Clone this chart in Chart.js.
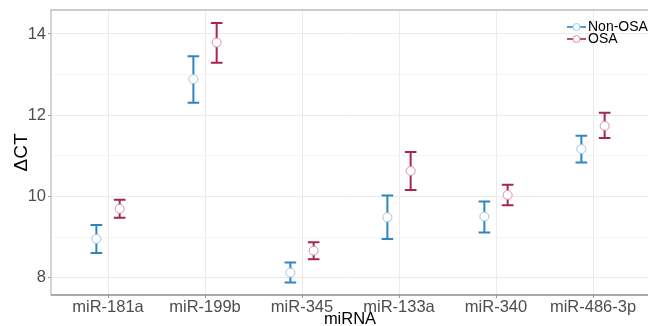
<!DOCTYPE html>
<html lang="en">
<head>
<meta charset="UTF-8">
<title>miRNA dCT</title>
<script src="https://cdn.jsdelivr.net/npm/chart.js"></script>
<style>
  html, body { margin: 0; padding: 0; background: #fff; }
  #wrap { width: 648px; height: 326px; }
</style>
</head>
<body>
<div id="wrap"><canvas id="chart" width="648" height="326"></canvas></div>
<script>
// data
const categories = ['miR-181a', 'miR-199b', 'miR-345', 'miR-133a', 'miR-340', 'miR-486-3p'];
const nonOsaMean = [8.96, 12.89, 8.13, 9.49, 9.51, 11.17];
const nonOsaLow  = [8.61, 12.31, 7.89, 8.96, 9.12, 10.84];
const nonOsaHigh = [9.30, 13.45, 8.38, 10.03, 9.88, 11.50];
const osaMean = [9.70, 13.79, 8.67, 10.63, 10.04, 11.74];
const osaLow  = [9.48, 13.29, 8.46, 10.16, 9.79, 11.44];
const osaHigh = [9.92, 14.27, 8.88, 11.10, 10.29, 12.06];
const yTicks = [8, 9, 10, 11, 12, 13, 14];

const blue = '#2f85c2', blueLight = '#9cc6e6';
const red = '#a8254f', redLight = '#d690a8';
const dodge = 0.12;
const font = '"Liberation Sans", Arial, sans-serif';

function points(means, shift) {
  return means.map((m, i) => ({ x: i + 1 + shift, y: m }));
}

// draws the error bars, the axis titles and the legend
const errorBars = {
  id: 'errorBars',
  beforeDatasetsDraw(chart) {
    const ctx = chart.ctx;
    const xs = chart.scales.x, ys = chart.scales.y;
    const groups = [
      { low: nonOsaLow, high: nonOsaHigh, shift: -dodge, color: blue },
      { low: osaLow, high: osaHigh, shift: dodge, color: red }
    ];
    ctx.save();
    ctx.lineWidth = 2;
    groups.forEach(g => {
      ctx.strokeStyle = g.color;
      categories.forEach((c, i) => {
        const x = xs.getPixelForValue(i + 1 + g.shift);
        const xl = xs.getPixelForValue(i + 1 + g.shift - 0.06);
        const xr = xs.getPixelForValue(i + 1 + g.shift + 0.06);
        const y1 = ys.getPixelForValue(g.low[i]);
        const y2 = ys.getPixelForValue(g.high[i]);
        ctx.beginPath();
        ctx.moveTo(x, y1); ctx.lineTo(x, y2);
        ctx.moveTo(xl, y1); ctx.lineTo(xr, y1);
        ctx.moveTo(xl, y2); ctx.lineTo(xr, y2);
        ctx.stroke();
      });
    });
    ctx.restore();
  },
  afterDraw(chart) {
    const ctx = chart.ctx, a = chart.chartArea;
    ctx.save();
    ctx.fillStyle = '#000';
    ctx.textAlign = 'center';
    ctx.textBaseline = 'middle';
    // x axis title
    ctx.font = '16.5px ' + font;
    ctx.fillText('miRNA', 350, 319);
    // y axis title
    ctx.save();
    ctx.translate(22, (a.top + a.bottom) / 2);
    ctx.rotate(-Math.PI / 2);
    ctx.font = '19px ' + font;
    ctx.fillText('ΔCT', 0, 0);
    ctx.restore();
    // legend
    const items = [
      { label: 'Non-OSA', color: blue, light: blueLight, y: 27 },
      { label: 'OSA', color: red, light: redLight, y: 39 }
    ];
    ctx.font = '14px ' + font;
    ctx.textAlign = 'left';
    items.forEach(it => {
      ctx.strokeStyle = it.color;
      ctx.lineWidth = 1.6;
      ctx.beginPath();
      ctx.moveTo(567, it.y); ctx.lineTo(586, it.y);
      ctx.stroke();
      ctx.beginPath();
      ctx.arc(576.5, it.y, 3.5, 0, Math.PI * 2);
      ctx.fillStyle = '#fff';
      ctx.fill();
      ctx.lineWidth = 1;
      ctx.strokeStyle = it.light;
      ctx.stroke();
      ctx.fillStyle = '#000';
      ctx.fillText(it.label, 588, it.y);
    });
    ctx.restore();
  }
};

// panel border: top and left light, bottom axis darker
const frame = {
  id: 'frame',
  afterDatasetsDraw(chart) {
    const a = chart.chartArea, ctx = chart.ctx;
    ctx.save();
    ctx.lineWidth = 1.3;
    ctx.strokeStyle = '#bdbdbd';
    ctx.beginPath();
    ctx.moveTo(a.left, a.bottom); ctx.lineTo(a.left, a.top); ctx.lineTo(a.right, a.top);
    ctx.stroke();
    ctx.strokeStyle = '#8c8c8c';
    ctx.beginPath();
    ctx.moveTo(a.left, a.bottom); ctx.lineTo(a.right, a.bottom);
    ctx.stroke();
    ctx.restore();
  }
};

new Chart(document.getElementById('chart'), {
  type: 'scatter',
  data: {
    datasets: [
      {
        label: 'Non-OSA',
        data: points(nonOsaMean, -dodge),
        backgroundColor: '#fff',
        borderColor: blueLight,
        borderWidth: 1,
        pointRadius: 4.5
      },
      {
        label: 'OSA',
        data: points(osaMean, dodge),
        backgroundColor: '#fff',
        borderColor: redLight,
        borderWidth: 1,
        pointRadius: 4.5
      }
    ]
  },
  options: {
    responsive: false,
    animation: false,
    layout: { autoPadding: false, padding: { top: 10, right: 0, left: 0, bottom: 0 } },
    plugins: { legend: { display: false }, tooltip: { enabled: false } },
    scales: {
      x: {
        type: 'linear',
        min: 0.412,
        max: 6.567,
        afterBuildTicks(s) { s.ticks = categories.map((c, i) => ({ value: i + 1 })); },
        afterFit(s) { s.height = 31; s.paddingLeft = 0; s.paddingRight = 0; },
        ticks: {
          callback: v => categories[v - 1],
          color: '#4d4d4d',
          font: { size: 16.5, family: font },
          padding: 0,
          maxRotation: 0
        },
        grid: { color: '#ebebeb', lineWidth: 1, tickLength: 3, tickColor: '#9a9a9a' },
        border: { display: false }
      },
      y: {
        min: 7.58,
        max: 14.59,
        afterBuildTicks(s) { s.ticks = yTicks.map(v => ({ value: v })); },
        afterFit(s) { s.width = 51; s.paddingTop = 0; s.paddingBottom = 0; },
        ticks: {
          callback: v => (v % 2 === 0 ? String(v) : ''),
          color: '#4d4d4d',
          font: { size: 16.5, family: font },
          padding: 2
        },
        grid: {
          color: c => (c.tick && c.tick.value % 2 === 0 ? '#ebebeb' : '#f5f5f5'),
          lineWidth: 1,
          tickLength: 3,
          tickColor: c => (c.tick && c.tick.value % 2 === 0 ? '#9a9a9a' : 'rgba(0,0,0,0)')
        },
        border: { display: false }
      }
    }
  },
  plugins: [errorBars, frame]
});
</script>
</body>
</html>
